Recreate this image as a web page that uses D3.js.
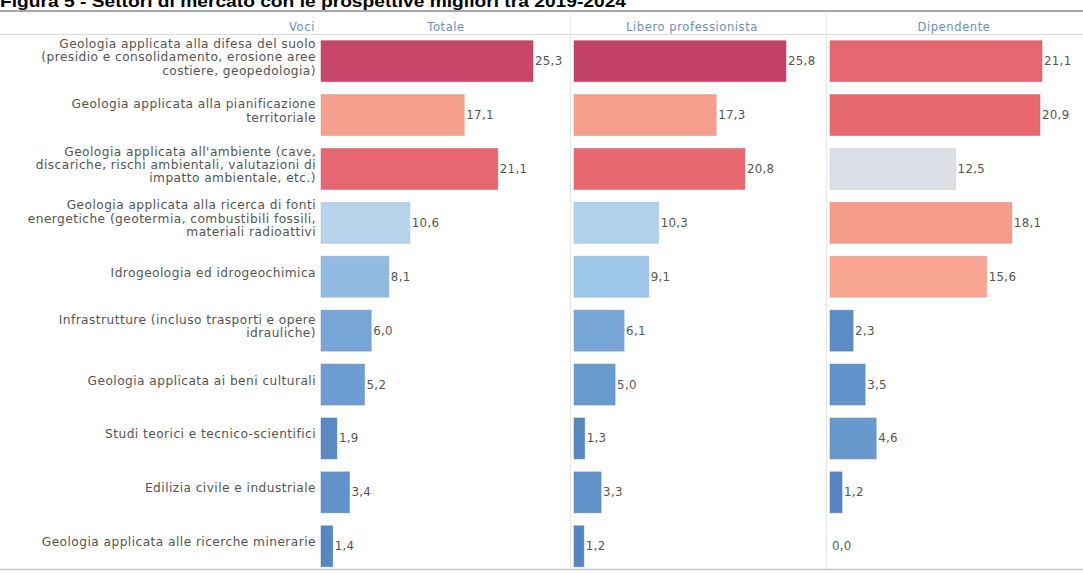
<!DOCTYPE html>
<html>
<head>
<meta charset="utf-8">
<script src="https://cdn.jsdelivr.net/npm/d3@7"></script>
<style>
  html, body { margin: 0; padding: 0; background: #fff; }
  svg { display: block; }
</style>
</head>
<body>
<svg id="chart" width="1083" height="573"></svg>
<script>
// Settori di mercato: labels (line breaks marked with "\n") and the three series
const categories = [
  "Geologia applicata alla difesa del suolo\n(presidio e consolidamento, erosione aree\ncostiere, geopedologia)",
  "Geologia applicata alla pianificazione\nterritoriale",
  "Geologia applicata all'ambiente (cave,\ndiscariche, rischi ambientali, valutazioni di\nimpatto ambientale, etc.)",
  "Geologia applicata alla ricerca di fonti\nenergetiche (geotermia, combustibili fossili,\nmateriali radioattivi",
  "Idrogeologia ed idrogeochimica",
  "Infrastrutture (incluso trasporti e opere\nidrauliche)",
  "Geologia applicata ai beni culturali",
  "Studi teorici e tecnico-scientifici",
  "Edilizia civile e industriale",
  "Geologia applicata alle ricerche minerarie"
];
const totale     = [25.3, 17.1, 21.1, 10.6, 8.1, 6.0, 5.2, 1.9, 3.4, 1.4];
const libero     = [25.8, 17.3, 20.8, 10.3, 9.1, 6.1, 5.0, 1.3, 3.3, 1.2];
const dipendente = [21.1, 20.9, 12.5, 18.1, 15.6, 2.3, 3.5, 4.6, 1.2, 0.0];
const columnTitles = ["Voci", "Totale", "Libero professionista", "Dipendente"];
const title = "Figura 5 - Settori di mercato con le prospettive migliori tra 2019-2024";

const svg = d3.select("#chart");
const W = 1083;
const fmt = v => v.toFixed(1).replace(".", ",");
const FONT = "DejaVu Sans, Verdana, sans-serif";

// diverging red-blue colour by value
const color = d3.scaleLinear()
  .domain([0, 5, 10, 12.5, 14.5, 18.2, 20.8, 25.5])
  .range(["#4f80bc", "#6a9bd0", "#aacfed", "#dcdfe5", "#f9aa97", "#f59c8a", "#e8696f", "#c6446a"]);

// title, partly above the top edge
svg.append("text")
  .attr("x", 0).attr("y", 7)
  .attr("font-family", "Liberation Sans, Arial, sans-serif")
  .attr("font-weight", "bold")
  .attr("font-size", 17)
  .attr("fill", "#000")
  .attr("textLength", 626)
  .attr("lengthAdjust", "spacingAndGlyphs")
  .text(title);

svg.append("rect").attr("x", 0).attr("y", 10).attr("width", W).attr("height", 2).attr("fill", "#a6a6a6");

// header row
const headerX = [302, 446, 692, 954];
svg.selectAll("text.head").data(columnTitles).join("text")
  .attr("class", "head")
  .attr("x", (d, i) => headerX[i]).attr("y", 31)
  .attr("text-anchor", "middle")
  .attr("font-family", FONT)
  .attr("font-size", 11.5)
  .attr("letter-spacing", 0.6)
  .attr("fill", "#6a90c6")
  .text(d => d);

svg.append("line").attr("x1", 0).attr("x2", W).attr("y1", 34.5).attr("y2", 34.5)
  .attr("stroke", "#dcdcdc").attr("stroke-width", 1);

// column separators
[570.5, 826.5].forEach(x => {
  svg.append("line").attr("x1", x).attr("x2", x).attr("y1", 14).attr("y2", 569)
    .attr("stroke", "#e8e8e8").attr("stroke-width", 1);
});

// bottom rule
svg.append("line").attr("x1", 0).attr("x2", W).attr("y1", 569.5).attr("y2", 569.5)
  .attr("stroke", "#c8c8c8").attr("stroke-width", 1.5);

const y = d3.scaleBand()
  .domain(d3.range(categories.length))
  .range([34.2, 573.2])
  .paddingInner(0.24)
  .paddingOuter(0.12);

// category labels, right aligned
const lineH = 13.4;
const lab = svg.append("g").selectAll("text").data(categories).join("text")
  .attr("text-anchor", "end")
  .attr("font-family", FONT)
  .attr("font-size", 12.2)
  .attr("letter-spacing", 0.45)
  .attr("fill", "#555");
lab.each(function(d, i) {
  const lines = d.split("\n");
  const cy = y(i) + y.bandwidth() / 2 - 4;
  const t = d3.select(this);
  lines.forEach((ln, k) => {
    t.append("tspan")
      .attr("x", 316)
      .attr("y", cy + (k - (lines.length - 1) / 2) * lineH + 4)
      .text(ln);
  });
});

// one bar panel per series, each on its own scale
const panels = [
  { values: totale,     x0: 321 },
  { values: libero,     x0: 574 },
  { values: dipendente, x0: 830 }
];
panels.forEach(p => {
  const x = d3.scaleLinear().domain([0, d3.max(p.values)]).range([0, 212]);
  const g = svg.append("g").attr("transform", `translate(${p.x0},0)`);
  g.selectAll("rect").data(p.values).join("rect")
    .attr("x", 0)
    .attr("y", (d, i) => y(i))
    .attr("width", d => x(d))
    .attr("height", y.bandwidth())
    .attr("fill", d => color(d))
    .attr("stroke", d => d3.color(color(d)).darker(0.35))
    .attr("stroke-opacity", 0.45)
    .attr("stroke-width", 1);
  g.selectAll("text").data(p.values).join("text")
    .attr("x", d => x(d) + 2)
    .attr("y", (d, i) => y(i) + y.bandwidth() / 2 + 4)
    .attr("font-family", FONT)
    .attr("font-size", 11.8)
    .attr("letter-spacing", 0.3)
    .attr("fill", "#555")
    .text(d => fmt(d));
});
</script>
</body>
</html>
